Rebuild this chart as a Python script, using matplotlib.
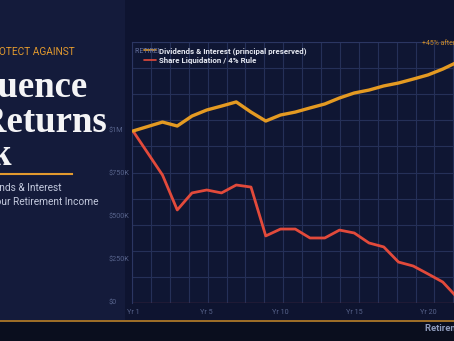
import matplotlib
matplotlib.use("Agg")
import matplotlib.pyplot as plt
import matplotlib.transforms as mtransforms
from matplotlib.patches import Rectangle
import numpy as np

# Datos (valor de cartera en millones de dolares)
years = list(range(1, 24))
dividends = [1.000, 1.026, 1.052, 1.029, 1.087, 1.122, 1.145, 1.169, 1.110, 1.058,
             1.093, 1.110, 1.134, 1.157, 1.192, 1.221, 1.238, 1.262, 1.279, 1.302,
             1.326, 1.360, 1.401]
liquidation = [1.000, 0.872, 0.744, 0.541, 0.640, 0.657, 0.640, 0.686, 0.674, 0.390,
               0.430, 0.430, 0.378, 0.378, 0.424, 0.407, 0.349, 0.326, 0.238, 0.215,
               0.169, 0.122, 0.030]
y_labels = ['$0', '$250K', '$500K', '$750K', '$1M']
y_label_vals = [0, 0.25, 0.5, 0.75, 1.0]
x_labels = ['Yr 1', 'Yr 5', 'Yr 10', 'Yr 15', 'Yr 20']
x_label_pos = [1, 6, 11, 16, 21]
series_names = ['Dividends & Interest (principal preserved)', 'Share Liquidation / 4% Rule']

W, H = 454, 341
ORANGE = '#e49a22'
RED = '#e24a3b'
GRID = '#253058'
MUTED = '#56628a'

fig = plt.figure(figsize=(W / 100, H / 100), dpi=100, facecolor='#0e1430')


def fx(x):
    return x / W


def fy(y):
    return 1 - y / H


# Fondos: panel izquierdo, zona del grafico, pie
fig.patches.append(Rectangle((0, fy(320)), fx(125), 1 - fy(320), transform=fig.transFigure,
                             facecolor='#141b3b', edgecolor='none', zorder=-2))
fig.patches.append(Rectangle((0, 0), 1, fy(320), transform=fig.transFigure,
                             facecolor='#0a0e1e', edgecolor='none', zorder=-2))
fig.add_artist(plt.Line2D([0, 1], [fy(320.5), fy(320.5)], transform=fig.transFigure,
                          color='#c98a2c', lw=1.1))

# Texto del panel izquierdo
sans = 'Roboto'
fig.text(fx(75), fy(55), 'HOW TO PROTECT AGAINST', ha='right', va='baseline',
         color='#e39a2e', fontsize=7.3, family=sans)
for txt, base in [('Sequence', 97), ('of Returns', 132), ('Risk', 165)]:
    fig.text(fx(-60), fy(base), txt, ha='left', va='baseline', color='#f4f4f6',
             fontsize=26.5, family='Liberation Serif', weight='bold')
fig.add_artist(plt.Line2D([0, fx(72)], [fy(173.5), fy(173.5)], transform=fig.transFigure,
                          color='#e39a2e', lw=1.5))
fig.text(fx(62), fy(191.5), 'Why Dividends & Interest', ha='right', va='baseline',
         color='#c2c8dc', fontsize=7.3, family=sans)
fig.text(fx(99), fy(205), 'Protect Your Retirement Income', ha='right', va='baseline',
         color='#c2c8dc', fontsize=7.3, family=sans)
fig.text(fx(425), fy(331), 'Retirement Income Strategies', ha='left', va='baseline',
         color='#8e9abb', fontsize=6.8, family=sans, weight='bold')

# Ejes del grafico (se salen por la derecha, como en la captura)
ax_left, ax_right, ax_top, ax_bot = 132, 600, 42, 303
ax = fig.add_axes([fx(ax_left), fy(ax_bot), fx(ax_right - ax_left), (ax_bot - ax_top) / H])
ax.set_facecolor('#0f1633')

step = 14.75  # px por anio
x0 = 1 - 1 / step
ymax = (ax_bot - ax_top) / 172

ax.set_xticks(np.arange(x0, x0 + 40, 18.9 / step), minor=True)
ax.set_yticks(np.linspace(0, ymax, 11), minor=True)
ax.grid(which='minor', color=GRID, lw=0.8)
ax.tick_params(which='both', length=0)
ax.set_yticks([])
ax.set_xticks(x_label_pos)
ax.set_xticklabels(x_labels, fontsize=5.2, color=MUTED, family=sans)
ax.tick_params(axis='x', pad=4)
ax.set_xlim(x0, x0 + (ax_right - ax_left) / step)
ax.set_ylim(0, ymax)
for s in ['right', 'bottom']:
    ax.spines[s].set_visible(False)
for s in ['left', 'top']:
    ax.spines[s].set_color('#2b3662')
    ax.spines[s].set_linewidth(0.8)
ax.axhline(0, color='#5e2838', lw=1.0, zorder=2)

ax.plot(years, dividends, color=ORANGE, lw=2.4, solid_joinstyle='round',
        solid_capstyle='round', label=series_names[0], zorder=4)
ax.plot(years, liquidation, color=RED, lw=2.0, solid_joinstyle='round',
        solid_capstyle='round', label=series_names[1], zorder=3)

# Etiquetas del eje Y alineadas a la izquierda
trans = mtransforms.blended_transform_factory(fig.transFigure, ax.transData)
for lab, v in zip(y_labels, y_label_vals):
    ax.text(fx(109), v, lab, transform=trans, ha='left', va='center', fontsize=5.2,
            color=MUTED, family=sans, clip_on=False)

# Titulo tapado por la leyenda
t = fig.text(fx(135), fy(53), 'RETIREMENT PORTFOLIO VALUE', ha='left', va='baseline',
             fontsize=5, color='#6672a0', family=sans)
t.set_clip_box(mtransforms.TransformedBbox(
    mtransforms.Bbox([[0, 0], [fx(159), 1]]), fig.transFigure))
t.set_clip_on(True)

fig.text(fx(422), fy(45), '+45% after 30 years', ha='left', va='baseline',
         fontsize=5, color='#c98a2a', family=sans)

leg = ax.legend(loc='upper left', bbox_to_anchor=(fx(144), fy(47)),
                bbox_transform=fig.transFigure, frameon=False, borderpad=0,
                borderaxespad=0, handlelength=1.5, handletextpad=0.35,
                labelspacing=0.3, prop={'family': sans, 'size': 5.7, 'weight': 'bold'})
for txt in leg.get_texts():
    txt.set_color('#e6e9f2')
for ln in leg.get_lines():
    ln.set_linewidth(1.2)
leg.set_zorder(6)

fig.savefig('out.png', dpi=100, facecolor=fig.get_facecolor())
